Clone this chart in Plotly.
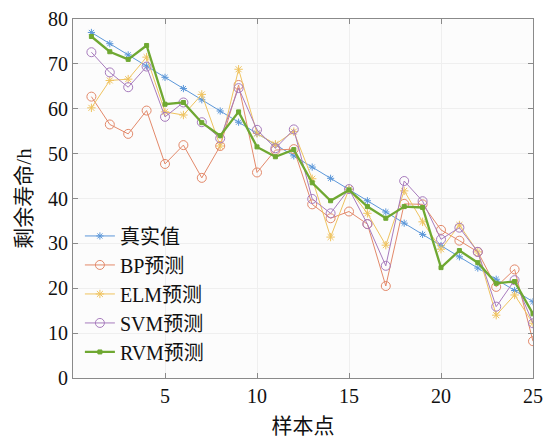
import plotly.graph_objects as go

# sample index
samples = list(range(1, 26))

# remaining useful life (h): actual and model predictions
true_life = [77.0, 74.5, 72.0, 69.5, 67.0, 64.5, 62.0, 59.5, 57.0, 54.5,
             52.0, 49.5, 47.0, 44.5, 42.0, 39.5, 37.0, 34.5, 32.0, 29.5,
             27.0, 24.5, 22.0, 19.5, 17.0]
bp_pred = [62.7, 56.5, 54.4, 59.6, 47.7, 51.9, 44.6, 51.7, 65.3, 45.8,
           50.8, 51.0, 38.7, 35.6, 37.1, 34.3, 20.5, 38.8, 38.7, 33.0,
           30.6, 28.1, 20.3, 24.2, 8.2]
elm_pred = [60.2, 66.3, 66.6, 71.5, 59.3, 58.6, 63.2, 51.7, 68.8, 54.5,
            52.1, 54.9, 44.4, 31.4, 42.1, 36.7, 29.6, 41.7, 34.8, 28.7,
            34.1, 28.1, 14.0, 18.5, 12.2]
svm_pred = [72.6, 68.1, 64.8, 69.4, 58.2, 61.4, 57.0, 53.4, 64.6, 55.3,
            51.2, 55.4, 39.9, 36.7, 42.1, 34.3, 25.0, 43.9, 39.4, 30.9,
            33.5, 28.1, 15.9, 21.8, 12.2]
rvm_pred = [76.1, 72.7, 71.0, 74.1, 61.0, 61.4, 56.9, 54.0, 59.3, 51.5,
            49.3, 50.9, 43.5, 39.5, 41.9, 38.2, 35.6, 38.2, 38.0, 24.6,
            28.4, 25.7, 21.1, 21.5, 14.3]

x_ticks = [5, 10, 15, 20, 25]
y_ticks = [0, 10, 20, 30, 40, 50, 60, 70, 80]

series = [
    ("真实值", true_life, "#5b97d9", "asterisk-open", 6, 1.0),
    ("BP预测", bp_pred, "#e3896a", "circle-open", 9, 1.0),
    ("ELM预测", elm_pred, "#efc35f", "asterisk-open", 7, 1.0),
    ("SVM预测", svm_pred, "#a77bbd", "circle-open", 9, 1.0),
    ("RVM预测", rvm_pred, "#6fa832", "square", 4, 2.3),
]

fig = go.Figure()
for name, vals, color, symbol, msize, lw in series:
    fig.add_trace(go.Scatter(
        x=samples, y=vals, name=name, mode="lines+markers",
        line=dict(color=color, width=lw),
        marker=dict(symbol=symbol, size=msize, color=color,
                    line=dict(color=color, width=1)),
    ))

font_family = "'Liberation Serif', 'Times New Roman', 'Noto Sans CJK SC', serif"
axis_color = "#8a8a8a"
text_color = "#111111"

fig.update_layout(
    width=545, height=439,
    margin=dict(l=73, r=12, t=19, b=61, autoexpand=False),
    paper_bgcolor="white",
    plot_bgcolor="#fcfcfc",
    font=dict(family=font_family, size=20, color=text_color),
    showlegend=True,
    legend=dict(
        x=0.015, y=0.45, xanchor="left", yanchor="top",
        bgcolor="rgba(0,0,0,0)", borderwidth=0,
        font=dict(family=font_family, size=20, color=text_color),
        tracegroupgap=0, itemwidth=30,
    ),
)

fig.update_xaxes(
    range=[0, 25], tickvals=x_ticks, ticktext=[str(v) for v in x_ticks],
    automargin=False,
    showgrid=True, gridcolor="#efefef", gridwidth=1,
    showline=True, linecolor=axis_color, linewidth=1, mirror="ticks",
    ticks="inside", ticklen=5, tickcolor=axis_color,
    zeroline=False,
    tickfont=dict(family=font_family, size=20, color=text_color),
    title=dict(text="样本点", standoff=12,
               font=dict(family=font_family, size=21, color=text_color)),
)
fig.update_yaxes(
    range=[0, 80], tickvals=y_ticks, ticktext=[str(v) for v in y_ticks],
    automargin=False,
    showgrid=True, gridcolor="#efefef", gridwidth=1,
    showline=True, linecolor=axis_color, linewidth=1, mirror="ticks",
    ticks="inside", ticklen=5, tickcolor=axis_color,
    zeroline=False,
    tickfont=dict(family=font_family, size=20, color=text_color),
    title=dict(text="剩余寿命/h", standoff=10,
               font=dict(family=font_family, size=21, color=text_color)),
)

fig.write_html("out.html")
